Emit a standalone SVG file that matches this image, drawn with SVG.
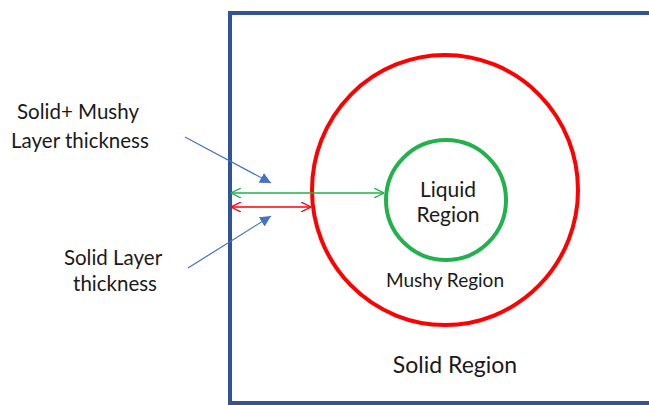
<svg xmlns="http://www.w3.org/2000/svg" width="649" height="405" viewBox="0 0 649 405">
<defs>
<marker id="vg" viewBox="0 0 10 10" refX="10" refY="5" markerWidth="10" markerHeight="10" markerUnits="userSpaceOnUse" orient="auto-start-reverse"><path d="M0,0 L10,5 L0,10" fill="none" stroke="#22b14c" stroke-width="1.3"/></marker>
<marker id="vr" viewBox="0 0 10 10" refX="10" refY="5" markerWidth="10" markerHeight="10" markerUnits="userSpaceOnUse" orient="auto-start-reverse"><path d="M0,0 L10,5 L0,10" fill="none" stroke="#ff0000" stroke-width="1.3"/></marker>
<marker id="tb" viewBox="0 0 10 10" refX="10" refY="5" markerWidth="11" markerHeight="11" markerUnits="userSpaceOnUse" orient="auto"><path d="M0,0 L10,5 L0,10 Z" fill="#4472c4"/></marker>
</defs>
<style>
text{font-family:Lato,"Open Sans","Liberation Sans",sans-serif;fill:#1a1a1a;text-anchor:middle}
.lbl{font-size:20.5px}
</style>
<rect width="649" height="405" fill="#fff"/>
<g id="box"><rect x="230" y="13" width="425" height="390" fill="none" stroke="#2f5597" stroke-width="4"/></g>
<g id="mushy"><ellipse cx="445" cy="190" rx="133" ry="135" fill="none" stroke="#ff0000" stroke-width="4"/></g>
<g id="liquid"><circle cx="446" cy="200" r="60" fill="none" stroke="#22b14c" stroke-width="4"/></g>
<g id="connectors">
<line x1="231" y1="193" x2="384" y2="193" stroke="#22b14c" stroke-width="1.3" marker-start="url(#vg)" marker-end="url(#vg)"/>
<line x1="231" y1="207" x2="311" y2="207" stroke="#ff0000" stroke-width="1.3" marker-start="url(#vr)" marker-end="url(#vr)"/>
<line x1="185" y1="137" x2="271" y2="183" stroke="#4472c4" stroke-width="1.2" marker-end="url(#tb)"/>
<line x1="188" y1="268" x2="271" y2="216" stroke="#4472c4" stroke-width="1.2" marker-end="url(#tb)"/>
</g>
<g id="labels">
<text class="lbl" x="78" y="119">Solid+ Mushy</text>
<text class="lbl" x="80" y="148">Layer thickness</text>
<text class="lbl" x="113" y="265">Solid Layer</text>
<text class="lbl" x="115" y="291">thickness</text>
<text x="448" y="197" style="font-size:21px">Liquid</text>
<text x="448" y="222" style="font-size:21px">Region</text>
<text x="445" y="287" style="font-size:19px">Mushy Region</text>
<text x="455" y="373" style="font-size:23px">Solid Region</text>
</g>
</svg>
